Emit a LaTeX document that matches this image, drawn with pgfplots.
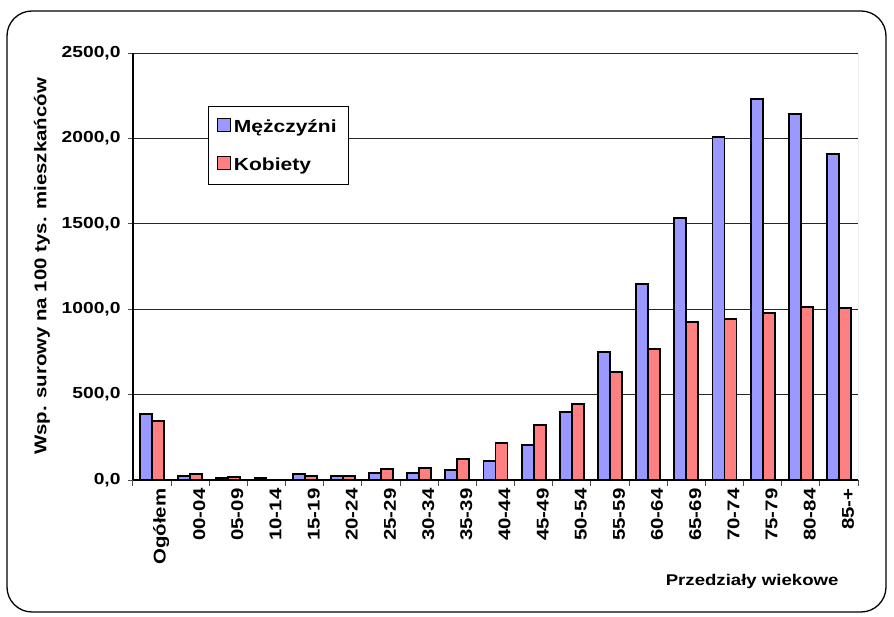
\documentclass[border=0pt]{standalone}
\usepackage{fontspec}
\setmainfont{Liberation Sans}[FakeStretch=1.2]
\usepackage{pgfplots}
\pgfplotsset{compat=1.18}
\definecolor{mblue}{HTML}{9999FF}
\definecolor{fred}{HTML}{FF8080}
\begin{document}
\begin{tikzpicture}
\begin{axis}[
  at={(0pt,0pt)}, anchor=south west,
  scale only axis, width=725pt, height=427pt,
  ybar=0pt, bar width=12pt,
  xmin=-0.5, xmax=18.5, ymin=0, ymax=2500,
  axis x line*=bottom, axis y line*=left,
  axis line style={-, line width=1.3pt, black},
  xtick={0,...,18},
  xticklabels={Ogółem,00-04,05-09,10-14,15-19,20-24,25-29,30-34,35-39,40-44,45-49,50-54,55-59,60-64,65-69,70-74,75-79,80-84,85-+},
  minor xtick={-0.5,0.5,...,18.5},
  major x tick style={draw=none},
  minor x tick style={black!70, line width=1pt},
  minor tick length=6pt,
  xtick pos=bottom, ytick pos=left,
  tick align=outside,
  ytick={0,500,...,2500},
  major tick length=5pt,
  y tick style={black!70, line width=0.8pt},
  ymajorgrids,
  major grid style={black!85, line width=0.9pt},
  /pgf/number format/assume math mode=true,
  /pgf/number format/fixed, /pgf/number format/fixed zerofill,
  /pgf/number format/precision=1, /pgf/number format/use comma,
  /pgf/number format/1000 sep={},
  yticklabel style={font=\fontsize{16}{18}\selectfont\bfseries, xshift=-4pt},
  xticklabel style={rotate=90, anchor=east, yshift=-9pt, font=\fontsize{17}{19}\selectfont\bfseries},
  ylabel={Wsp. surowy na 100 tys. mieszkańców},
  ylabel style={at={(axis description cs:-0.1255,0.5)}, anchor=center, rotate=0, font=\fontsize{17}{19}\selectfont\bfseries},
  xlabel={Przedziały wiekowe},
  xlabel style={at={(axis description cs:0.854,-0.246)}, anchor=base, font=\fontsize{15.5}{17}\selectfont\bfseries},
  legend style={at={(0.103,0.876)}, anchor=north west, draw=black, line width=1pt,
    font=\fontsize{17.5}{19}\selectfont\bfseries, inner xsep=9pt, inner ysep=11pt,
    row sep=20pt, nodes={inner xsep=3pt}},
  legend cell align=left,
  legend image code/.code={\draw[#1, line width=0.8pt] (2pt,-5pt) rectangle (15pt,8pt);},
]
\addplot[fill=mblue, draw=black, line width=1.8pt] coordinates {
(0,386) (1,25) (2,12) (3,10) (4,33) (5,25) (6,41) (7,41) (8,57) (9,111)
(10,207) (11,396) (12,750) (13,1148) (14,1536) (15,2006) (16,2229) (17,2145) (18,1909)};
\addlegendentry{Mężczyźni}
\addplot[fill=fred, draw=black, line width=1.8pt] coordinates {
(0,345) (1,33) (2,18) (3,3) (4,25) (5,25) (6,64) (7,72) (8,125) (9,217)
(10,322) (11,445) (12,634) (13,767) (14,925) (15,941) (16,978) (17,1015) (18,1009)};
\addlegendentry{Kobiety}
\draw[black!50, line width=1pt] (rel axis cs:1,0) -- (rel axis cs:1,1);
\end{axis}
\pgfresetboundingbox
\path (-133pt,-137pt) rectangle (761pt,480pt);
\draw[line width=1.3pt, rounded corners=25pt] (-126pt,-132pt) rectangle (753pt,469pt);
\end{tikzpicture}
\end{document}
